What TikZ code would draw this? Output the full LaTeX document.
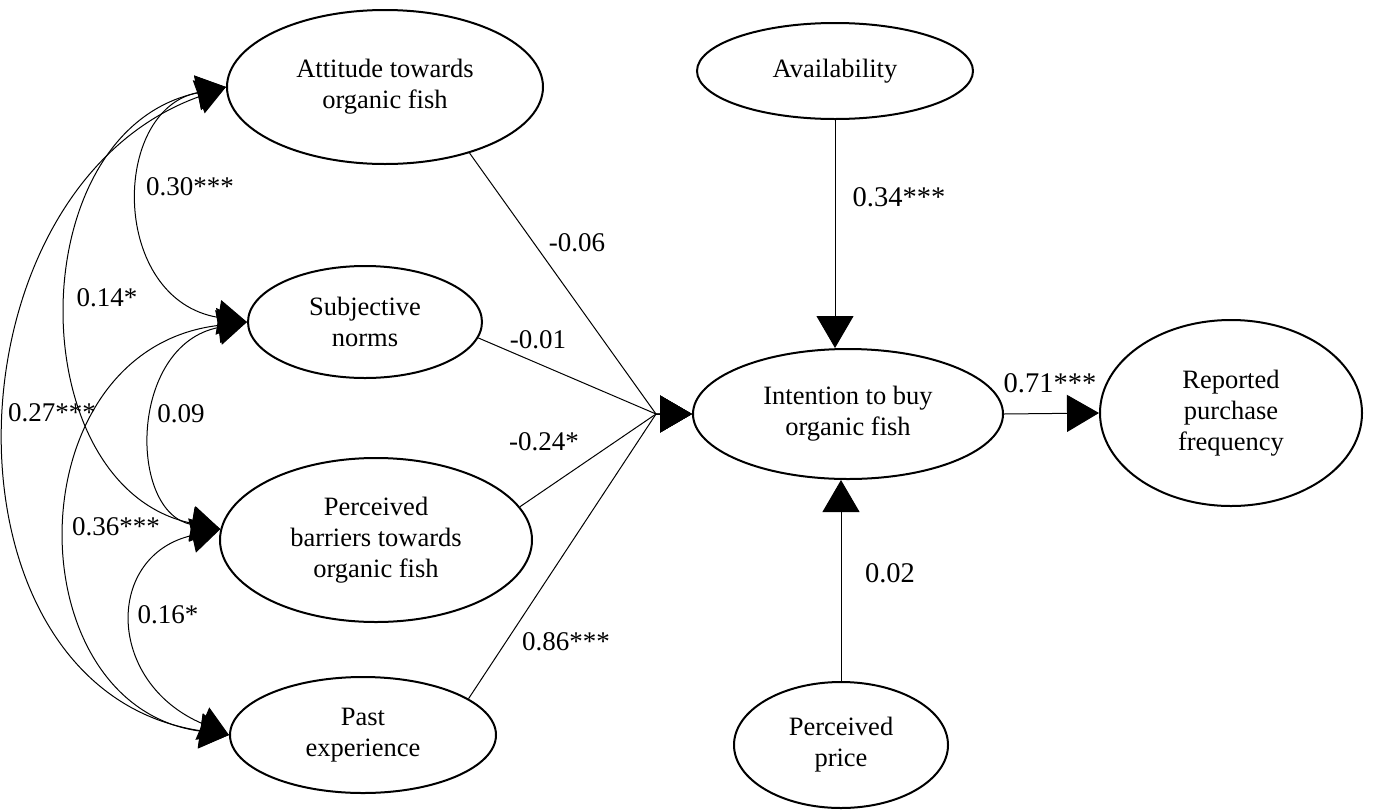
\documentclass[tikz,border=0pt]{standalone}
\usepackage{fontspec}
\setmainfont{Liberation Serif}
\usetikzlibrary{shapes.geometric,arrows.meta}
\begin{document}
\begin{tikzpicture}[x=1pt,y=-1pt,
  lat/.style={ellipse, draw, line width=2pt, inner sep=0pt, align=center,
    font=\fontsize{26.5}{31}\selectfont},
  reg/.style={line width=1pt, -{Triangle[length=32pt,width=37pt]}},
  cov/.style={line width=1pt, {Triangle[length=29pt,width=35pt]}-{Triangle[length=29pt,width=35pt]}},
  lab/.style={inner sep=0pt, font=\fontsize{27}{32}\selectfont},
  labr/.style={inner sep=0pt, font=\fontsize{28.5}{33}\selectfont}]
\useasboundingbox (0,0) rectangle (1373,809);

% latent variables
\node[lat, minimum width=316pt, minimum height=154pt] (att) at (385,87) {Attitude towards\\organic fish};
\node[lat, minimum width=234pt, minimum height=112pt] (sub) at (365,322) {Subjective\\norms};
\node[lat, minimum width=312pt, minimum height=164pt] (bar) at (376,540) {Perceived\\barriers towards\\organic fish};
\node[lat, minimum width=266pt, minimum height=116pt] (pst) at (363,735) {Past\\experience};
\node[lat, minimum width=276pt, minimum height=96pt] (avl) at (835,71) {Availability};
\node[lat, minimum width=310pt, minimum height=130pt] (int) at (848,414) {Intention to buy\\organic fish};
\node[lat, minimum width=214pt, minimum height=126pt] (prc) at (841,745) {Perceived\\price};
\node[lat, minimum width=262pt, minimum height=186pt] (rep) at (1231,413) {Reported\\purchase\\frequency};

% regression paths
\coordinate (conv) at (656,414);
\draw[reg] (att.-38) -- (conv) -- (int.west);
\draw[reg] (sub.-8) -- (conv) -- (int.west);
\draw[reg] (bar.13) -- (conv) -- (int.west);
\draw[reg] (pst.19) -- (conv) -- (int.west);
\draw[reg] (avl.south) -- (avl.south |- int.north);
\draw[reg] (prc.north) -- (prc.north |- int.south);
\draw[reg] (int.east) -- (rep.west);

% covariances
\draw[cov] (att.west) .. controls (110,110) and (110,300) .. (sub.west);
\draw[cov] (att.west) .. controls (19,130) and (19,488) .. (bar.176);
\draw[cov] (att.west) .. controls (-60,190) and (-70,690) .. (pst.west);
\draw[cov] (sub.west) .. controls (128,345) and (128,514) .. (bar.176);
\draw[cov] (sub.west) .. controls (13,350) and (13,706) .. (pst.west);
\draw[cov] (bar.176) .. controls (105,555) and (105,682) .. (pst.west);

% labels
\node[lab] (l30) at (190,187) {0.30***};
\node[lab] (l14) at (107,298) {0.14*};
\node[lab] (l27) at (52,413) {0.27***};
\node[lab] (l09) at (181,414) {0.09};
\node[lab] (l36) at (116,527) {0.36***};
\node[lab] (l16) at (168,615) {0.16*};
\node[lab] (l06) at (577,243) {-0.06};
\node[lab] (l01) at (538,340) {-0.01};
\node[lab] (l24) at (544,442) {-0.24*};
\node[lab] (l86) at (566,642) {0.86***};
\node[labr] (l34) at (899,197) {0.34***};
\node[labr] (l02) at (890,573) {0.02};
\node[labr] (l71) at (1050,383) {0.71***};
\end{tikzpicture}
\end{document}
